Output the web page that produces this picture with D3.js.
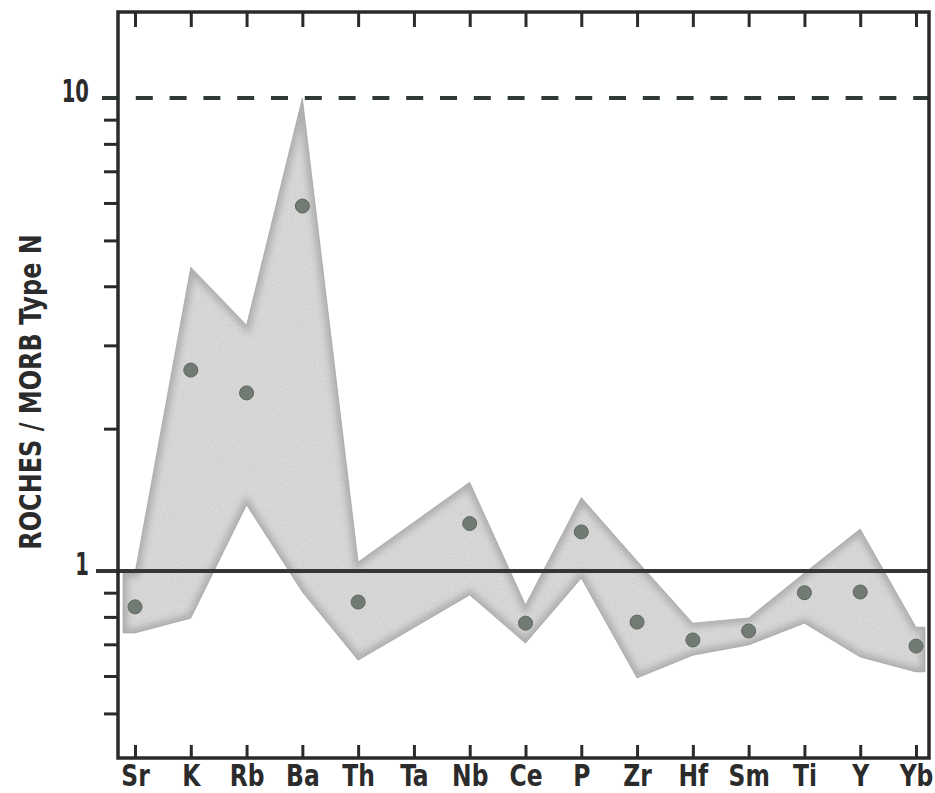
<!DOCTYPE html>
<html>
<head>
<meta charset="utf-8">
<script src="https://cdn.jsdelivr.net/npm/d3@7"></script>
<style>
  html, body { margin: 0; padding: 0; background: #ffffff; }
  svg { display: block; }
  .lbl { font-family: "Liberation Sans Narrow", "DejaVu Sans Condensed", "DejaVu Sans", sans-serif; font-stretch: condensed; font-weight: bold; fill: #2b2b2b; }
</style>
</head>
<body>
<svg id="chart" width="935" height="793"></svg>
<script>
// Elements of the spider diagram (MORB-normalised)
const elements = ["Sr", "K", "Rb", "Ba", "Th", "Ta", "Nb", "Ce", "P", "Zr", "Hf", "Sm", "Ti", "Y", "Yb"];

// Mean rock / N-MORB ratios (dots); Ta not analysed
const meanRatio = [0.84, 2.66, 2.38, 5.91, 0.86, null, 1.26, 0.776, 1.21, 0.78, 0.715, 0.747, 0.90, 0.903, 0.694];

// Envelope of the analysed samples (shaded field)
const envelopeMax = [0.99, 4.39, 3.31, 10.0, 1.045, null, 1.54, 0.848, 1.43, 1.05, 0.776, 0.796, 0.99, 1.227, 0.761];
const envelopeMin = [0.74, 0.795, 1.38, 0.903, 0.648, null, 0.89, 0.704, 0.966, 0.594, 0.664, 0.698, 0.776, 0.658, 0.612];

// Axis ticks
const majorTicks = [1, 10];
const majorTickLabels = ["1", "10"];
const minorTicks = [0.5, 0.6, 0.7, 0.8, 0.9, 2, 3, 4, 5, 6, 7, 8, 9];
const yTitle = "ROCHES / MORB Type N";

// extra horizontal squeeze for the condensed bold labels
const labelSqueeze = 0.84;
const titleSqueeze = 0.86;
const digitSqueeze = 0.68;

const svg = d3.select("#chart");
const frame = { left: 118, right: 929, top: 12, bottom: 758 };

const x = d3.scalePoint().domain(elements).range([135, 916]).padding(0);
const y = d3.scaleLog().domain([0.4025, 15.2]).range([frame.bottom, frame.top]);

const defs = svg.append("defs");

// light print grain for the shaded field
const grain = defs.append("filter").attr("id", "grain")
  .attr("x", 0).attr("y", 0).attr("width", 1).attr("height", 1);
grain.append("feTurbulence").attr("type", "fractalNoise").attr("baseFrequency", "0.9 0.45")
  .attr("numOctaves", 2).attr("seed", 7).attr("result", "noise");
grain.append("feColorMatrix").attr("in", "noise").attr("type", "matrix")
  .attr("values", "0 0 0 0 0.45  0 0 0 0 0.45  0 0 0 0 0.45  0 0 0 0.55 -0.18")
  .attr("result", "specks");
grain.append("feComposite").attr("in", "specks").attr("in2", "SourceGraphic")
  .attr("operator", "in").attr("result", "clipped");
const gm = grain.append("feMerge");
gm.append("feMergeNode").attr("in", "SourceGraphic");
gm.append("feMergeNode").attr("in", "clipped");

const soft = defs.append("filter").attr("id", "soft")
  .attr("x", "-5%").attr("y", "-5%").attr("width", "110%").attr("height", "110%");
soft.append("feGaussianBlur").attr("stdDeviation", 3);

// Envelope polygon: upper bound left->right, lower bound right->left
const rows = elements.map((e, i) => ({ e, hi: envelopeMax[i], lo: envelopeMin[i] }))
  .filter(d => d.hi != null && d.lo != null);
const capL = 12, capR = 9;
const first = rows[0], last = rows[rows.length - 1];
const upper = [[x(first.e) - capL, y(first.hi)]]
  .concat(rows.map(d => [x(d.e), y(d.hi)]))
  .concat([[x(last.e) + capR, y(last.hi)]]);
const lower = [[x(first.e) - capL, y(first.lo)]]
  .concat(rows.map(d => [x(d.e), y(d.lo)]))
  .concat([[x(last.e) + capR, y(last.lo)]]);
const bandPath = d3.line()(upper.concat(lower.slice().reverse())) + "Z";

defs.append("clipPath").attr("id", "bandClip").append("path").attr("d", bandPath);

const band = svg.append("g");
band.append("path").attr("d", bandPath).attr("fill", "#d9d9d9").attr("filter", "url(#grain)");
band.append("g").attr("clip-path", "url(#bandClip)")
  .append("path").attr("d", bandPath)
  .attr("fill", "none").attr("stroke", "#8a8a8a").attr("stroke-width", 9)
  .attr("opacity", 0.5).attr("filter", "url(#soft)");
band.append("path").attr("d", bandPath).attr("fill", "none")
  .attr("stroke", "#9c9c9c").attr("stroke-width", 0.6);

// Reference lines at 1 (solid) and 10 (dashed)
svg.append("line")
  .attr("x1", 96).attr("x2", frame.right).attr("y1", y(1)).attr("y2", y(1))
  .attr("stroke", "#333835").attr("stroke-width", 4);
svg.append("line")
  .attr("x1", 96).attr("x2", frame.right).attr("y1", y(10)).attr("y2", y(10))
  .attr("stroke", "#2f3a36").attr("stroke-width", 4)
  .attr("stroke-dasharray", "17,16.8").attr("stroke-dashoffset", -6);

// Mean values
svg.append("g").selectAll("circle")
  .data(elements.map((e, i) => ({ e, v: meanRatio[i] })).filter(d => d.v != null))
  .join("circle")
  .attr("cx", d => x(d.e)).attr("cy", d => y(d.v)).attr("r", 7)
  .attr("fill", "#717a73").attr("stroke", "#5d665f").attr("stroke-width", 1);

// Frame
svg.append("rect")
  .attr("x", frame.left).attr("y", frame.top)
  .attr("width", frame.right - frame.left).attr("height", frame.bottom - frame.top)
  .attr("fill", "none").attr("stroke", "#2a2a2a").attr("stroke-width", 3.5);

// Bottom axis: inward ticks + element labels
const gx = svg.append("g").attr("transform", `translate(0,${frame.bottom})`)
  .call(d3.axisBottom(x).tickSize(-13));
gx.select(".domain").remove();
gx.selectAll(".tick line").attr("stroke", "#2a2a2a").attr("stroke-width", 3);
gx.selectAll(".tick text").attr("class", "lbl").attr("font-size", 31)
  .attr("dy", null).attr("y", 28).attr("fill", "#2b2b2b")
  .attr("transform", `scale(${labelSqueeze},1)`);

// Top axis: inward ticks only
const gxt = svg.append("g").attr("transform", `translate(0,${frame.top})`)
  .call(d3.axisTop(x).tickSize(-15).tickFormat(""));
gxt.select(".domain").remove();
gxt.selectAll(".tick line").attr("stroke", "#2a2a2a").attr("stroke-width", 3);

// Left axis: outward minor ticks
const gy = svg.append("g").attr("transform", `translate(${frame.left},0)`)
  .call(d3.axisLeft(y).tickValues(minorTicks).tickSize(14).tickFormat(""));
gy.select(".domain").remove();
gy.selectAll(".tick line").attr("stroke", "#2a2a2a").attr("stroke-width", 3);

// Major labels
svg.append("g").selectAll("text")
  .data(majorTicks)
  .join("text")
  .attr("class", "lbl")
  .attr("transform", d => `translate(89,${y(d) + 4}) scale(${digitSqueeze},1)`)
  .attr("text-anchor", "end").attr("font-size", 32)
  .text((d, i) => majorTickLabels[i]);

// Y title
svg.append("text")
  .attr("class", "lbl")
  .attr("transform", `translate(41,392) rotate(-90) scale(${titleSqueeze},1)`)
  .attr("text-anchor", "middle").attr("font-size", 31)
  .text(yTitle);
</script>
</body>
</html>
